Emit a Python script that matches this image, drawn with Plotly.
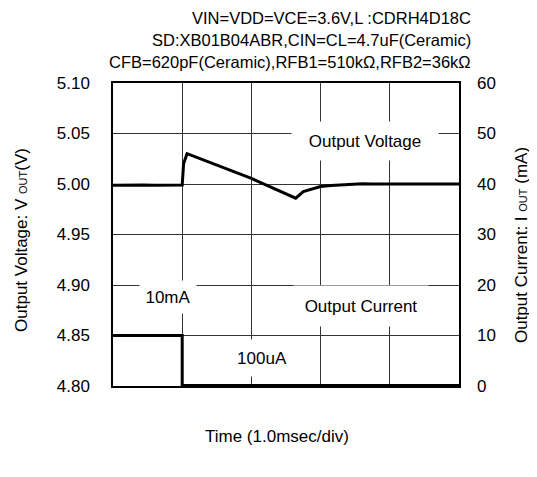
import plotly.graph_objects as go

# Output voltage trace (time in ms, voltage in V)
v_time = [0.0, 0.15, 0.3, 0.45, 0.6, 0.75, 0.9, 0.98, 1.0, 1.02, 1.07,
          2.0, 2.64, 2.75, 3.0, 3.15, 3.3, 3.45, 3.6, 3.75, 4.0, 5.0]
v_out = [4.9987, 4.9990, 4.9986, 4.9989, 4.9987, 4.9990, 4.9986, 4.9989, 4.9990, 5.0200, 5.0300,
         5.0055, 4.9860, 4.9925, 4.9975, 4.9986, 4.9993, 4.9999, 5.0002, 5.0000, 5.0000, 5.0000]

# Output current step (time in ms, current in mA)
i_time = [0.0, 1.0, 1.0, 5.0]
i_out = [10.0, 10.0, 0.1, 0.1]

v_ticks = [4.80, 4.85, 4.90, 4.95, 5.00, 5.05, 5.10]
i_ticks = [0, 10, 20, 30, 40, 50, 60]

header_lines = [
    "VIN=VDD=VCE=3.6V,L :CDRH4D18C",
    "SD:XB01B04ABR,CIN=CL=4.7uF(Ceramic)",
    "CFB=620pF(Ceramic),RFB1=510kΩ,RFB2=36kΩ",
]

FONT = "Liberation Sans, Arial, sans-serif"
FS = 17

fig = go.Figure()
fig.add_trace(go.Scatter(x=v_time, y=v_out, mode="lines",
                         line=dict(color="black", width=3), yaxis="y", showlegend=False))
fig.add_trace(go.Scatter(x=i_time, y=i_out, mode="lines",
                         line=dict(color="black", width=3), yaxis="y2", showlegend=False))

fig.update_layout(
    width=537, height=477,
    margin=dict(l=105, r=86, t=75, b=99),
    paper_bgcolor="white", plot_bgcolor="white",
    font=dict(family=FONT, color="black", size=FS),
    xaxis=dict(range=[0, 5], dtick=1, showticklabels=False, showgrid=True,
               gridcolor="#333333", gridwidth=1, zeroline=False, automargin=False,
               showline=True, linecolor="black", linewidth=1.5, mirror=True),
    yaxis=dict(range=[4.80, 5.10], tickvals=v_ticks, tickformat=".2f",
               showgrid=True, gridcolor="#333333", gridwidth=1, zeroline=False,
               showline=True, linecolor="black", linewidth=1.5, mirror=True,
               ticks="", ticklabelstandoff=18, automargin=False),
    yaxis2=dict(range=[0, 60], tickvals=i_ticks, overlaying="y", side="right",
                showgrid=False, zeroline=False, ticks="", ticklabelstandoff=17,
                automargin=False),
)

# axis titles
fig.add_annotation(text="Output Voltage: V <span style='font-size:11px'>OUT</span>(V)",
                   xref="paper", yref="paper", x=-0.263, y=0.482, textangle=-90,
                   showarrow=False, xanchor="center", yanchor="middle", font=dict(size=FS))
fig.add_annotation(text="Output Current: I <span style='font-size:11px'>OUT</span> (mA)",
                   xref="paper", yref="paper", x=1.179, y=0.465, textangle=-90,
                   showarrow=False, xanchor="center", yanchor="middle", font=dict(size=FS))
fig.add_annotation(text="Time (1.0msec/div)", xref="paper", yref="paper", x=0.474, y=-0.168,
                   showarrow=False, xanchor="center", yanchor="middle", font=dict(size=FS))

for k, line in enumerate(header_lines):
    fig.add_annotation(text=line, xref="paper", yref="paper", x=1.0405, y=1.0,
                       yshift=65 - 22 * k, xanchor="right", yanchor="middle",
                       showarrow=False, font=dict(size=16.5))

labels = [
    ("Output Voltage", 3.64, 5.0428, "y", 8, 130, 22),
    ("Output Current", 3.58, 15.8, "y2", 8, 118, 24),
    ("10mA", 0.79, 17.6, "y2", 5, 46, 22),
    ("100uA", 2.15, 5.5, "y2", 7, 52, 22),
]
for text, x, y, yr, pad, w, h in labels:
    fig.add_annotation(text=text, x=x, y=y, xref="x", yref=yr, showarrow=False,
                       width=w, height=h, align="center",
                       bgcolor="white", borderpad=pad, font=dict(size=FS))

fig.write_html("out.html")
